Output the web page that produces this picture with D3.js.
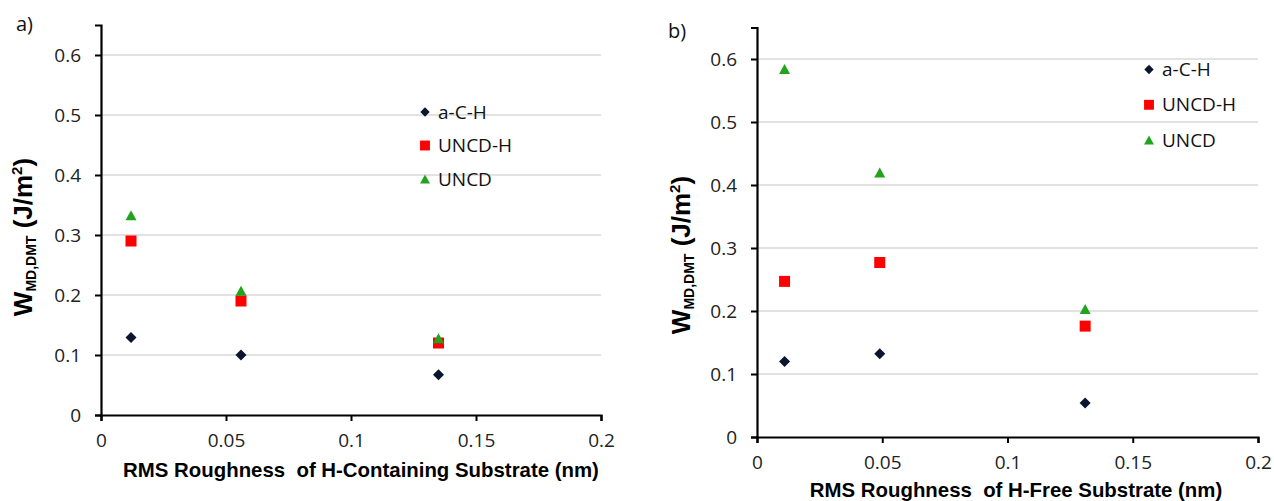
<!DOCTYPE html>
<html>
<head>
<meta charset="utf-8">
<script src="https://cdn.jsdelivr.net/npm/d3@7"></script>
<style>
  body { margin: 0; background: #fff; }
  text { font-family: "Open Sans", sans-serif; }
  .title { font-family: "Liberation Sans", Arial, sans-serif; font-weight: bold; white-space: pre; }
</style>
</head>
<body>
<div id="vis-container"></div>
<script>
// Data
const seriesNames = ["a-C-H", "UNCD-H", "UNCD"];
const xTicks = [0, 0.05, 0.1, 0.15, 0.2];
const yTicks = [0, 0.1, 0.2, 0.3, 0.4, 0.5, 0.6];

// a) H-containing substrate
const roughHC = [0.012, 0.056, 0.135];
const aCH_HC = [0.129, 0.100, 0.067];
const uncdH_HC = [0.290, 0.190, 0.120];
const uncd_HC = [0.333, 0.207, 0.128];

// b) H-free substrate
const roughHF = [0.011, 0.049, 0.131];
const aCH_HF = [0.120, 0.132, 0.054];
const uncdH_HF = [0.247, 0.277, 0.176];
const uncd_HF = [0.584, 0.420, 0.203];

const width = 1274;
const height = 501;

const colors = { "a-C-H": "#0a1530", "UNCD-H": "#ff0000", "UNCD": "#22a31c" };

const svg = d3.select("#vis-container")
    .append("svg")
    .attr("width", width)
    .attr("height", height);

// marker shapes
function markerPath(name) {
    if (name === "a-C-H") return "M0,-5.5L5.5,0L0,5.5L-5.5,0Z";
    if (name === "UNCD-H") return "M-5.5,-5.5H5.5V5.5H-5.5Z";
    return "M0,-5L5.5,5H-5.5Z";
}

function drawPanel(p) {
    const x = d3.scaleLinear().domain([0, 0.2]).range([p.left, p.right]);
    const y = d3.scaleLinear().domain([0, 0.65]).range([p.bottom, p.top]);
    const g = svg.append("g");

    // gridlines
    g.append("g")
        .selectAll("line")
        .data(yTicks.filter(d => d > 0))
        .enter()
        .append("line")
            .attr("x1", x(0))
            .attr("x2", x(0.2))
            .attr("y1", d => y(d))
            .attr("y2", d => y(d))
            .attr("stroke", "#d9d9d9")
            .attr("stroke-width", 1.5);

    // x axis
    g.append("g")
        .attr("transform", `translate(0,${p.bottom})`)
        .call(d3.axisBottom(x).tickValues(xTicks).tickFormat(d3.format("")).tickSizeOuter(0).tickSize(6).tickPadding(13))
        .call(a => a.select(".domain").attr("stroke-width", 2.2))
        .call(a => a.selectAll(".tick line").attr("stroke-width", 2))
        .call(a => a.selectAll(".tick text").attr("font-size", "19px").attr("fill", "#222"))
        .attr("font-family", null);

    // y axis
    g.append("g")
        .attr("transform", `translate(${p.left},0)`)
        .call(d3.axisLeft(y).tickValues(yTicks).tickFormat(d3.format("")).tickSizeOuter(0).tickSize(6).tickPadding(14))
        .call(a => a.select(".domain").attr("stroke-width", 2.2))
        .call(a => a.selectAll(".tick line").attr("stroke-width", 2))
        .call(a => a.selectAll(".tick text").attr("font-size", "19px").attr("fill", "#222"))
        .attr("font-family", null);

    // axis titles
    g.append("text")
        .attr("class", "title")
        .attr("x", p.xTitleX)
        .attr("y", p.xTitleY)
        .attr("text-anchor", "middle")
        .attr("font-size", "20.4px")
        .text(p.xTitle);

    const yt = g.append("text")
        .attr("class", "title")
        .attr("transform", `translate(${p.yTitleX},${p.yTitleY}) rotate(-90)`)
        .attr("text-anchor", "middle")
        .attr("font-size", "26px");
    yt.append("tspan").text("W");
    yt.append("tspan").attr("font-size", "14px").attr("dy", 4).text("MD,DMT");
    yt.append("tspan").attr("dy", -4).text(" (J/m");
    yt.append("tspan").attr("font-size", "15px").attr("dy", -10).text("2");
    yt.append("tspan").attr("dy", 10).text(")");

    // panel label
    g.append("text")
        .attr("x", p.labelX)
        .attr("y", p.labelY)
        .attr("font-size", "20px")
        .attr("fill", "#111")
        .text(p.label);

    // points
    p.series.forEach((vals, i) => {
        const name = seriesNames[i];
        g.append("g")
            .selectAll("path")
            .data(vals.map((v, j) => ({ x: p.xs[j], y: v })))
            .enter()
            .append("path")
                .attr("transform", d => `translate(${x(d.x)},${y(d.y)})`)
                .attr("d", markerPath(name))
                .attr("fill", colors[name]);
    });

    // legend
    const leg = g.append("g")
        .selectAll("g")
        .data(seriesNames)
        .enter()
        .append("g")
            .attr("transform", (d, i) => `translate(${p.legX},${p.legY + i * p.legStep})`);
    leg.append("path")
        .attr("d", d => markerPath(d))
        .attr("transform", d => d === "a-C-H" ? "scale(0.85)" : "scale(0.9)")
        .attr("fill", d => colors[d]);
    leg.append("text")
        .attr("x", 13)
        .attr("dy", "0.35em")
        .attr("font-size", "19px")
        .attr("fill", "#111")
        .text(d => d);
}

drawPanel({
    left: 101, right: 601, top: 25, bottom: 415,
    xs: roughHC, series: [aCH_HC, uncdH_HC, uncd_HC],
    xTitle: "RMS Roughness  of H-Containing Substrate (nm)", xTitleX: 361, xTitleY: 477,
    yTitleX: 32, yTitleY: 237,
    label: "a)", labelX: 16, labelY: 31,
    legX: 425, legY: 112, legStep: 33.5
});

drawPanel({
    left: 757, right: 1258, top: 27.5, bottom: 437,
    xs: roughHF, series: [aCH_HF, uncdH_HF, uncd_HF],
    xTitle: "RMS Roughness  of H-Free Substrate (nm)", xTitleX: 1016, xTitleY: 497,
    yTitleX: 690, yTitleY: 255,
    label: "b)", labelX: 668, labelY: 38,
    legX: 1149, legY: 69.5, legStep: 35.3
});
</script>
</body>
</html>
